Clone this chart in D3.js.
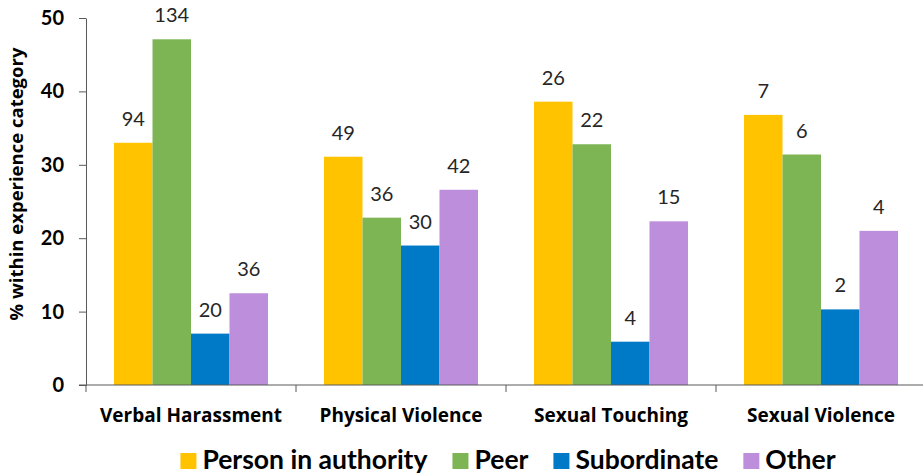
<!DOCTYPE html>
<html>
<head>
<meta charset="utf-8">
<script src="https://cdn.jsdelivr.net/npm/d3@7"></script>
<style>
  html, body { margin: 0; padding: 0; background: #fff; }
  svg { display: block; }
</style>
</head>
<body>
<svg id="chart" width="923" height="475"></svg>
<script>
// Experience categories along the x axis
const categories = ["Verbal Harassment", "Physical Violence", "Sexual Touching", "Sexual Violence"];
// Who was responsible (series)
const series = ["Person in authority", "Peer", "Subordinate", "Other"];
// Percent within experience category, one array per series (category order)
const authorityPct   = [33.0, 31.1, 38.6, 36.8];
const peerPct        = [47.1, 22.8, 32.8, 31.4];
const subordinatePct = [7.0, 19.0, 5.9, 10.3];
const otherPct       = [12.5, 26.6, 22.3, 21.0];
// Counts printed above each bar
const authorityN   = [94, 49, 26, 7];
const peerN        = [134, 36, 22, 6];
const subordinateN = [20, 30, 4, 2];
const otherN       = [36, 42, 15, 4];
const yTicks = [0, 10, 20, 30, 40, 50];

const colors = ["#FFC300", "#7DB554", "#007AC6", "#BC8EDC"];
const pctBySeries = [authorityPct, peerPct, subordinatePct, otherPct];
const nBySeries = [authorityN, peerN, subordinateN, otherN];

const rows = [];
categories.forEach((c, ci) => {
  series.forEach((s, si) => {
    rows.push({ category: c, series: s, pct: pctBySeries[si][ci], n: nBySeries[si][ci], color: colors[si] });
  });
});

const svg = d3.select("#chart");
const plotLeft = 86, plotRight = 926, plotTop = 18, plotBottom = 385;

const y = d3.scaleLinear().domain([0, 50]).range([plotBottom, plotTop]);
const x0 = d3.scaleBand().domain(categories).range([plotLeft, plotRight]).padding(0);
const x1 = d3.scaleBand().domain(series).range([28, x0.bandwidth() - 28]).padding(0);

const axisColor = "#595959";
const fontStack = "Lato, 'Open Sans', sans-serif";
const labelFont = "'Open Sans', Lato, sans-serif";

// bars
const g = svg.append("g");
g.selectAll("rect.bar").data(rows).join("rect")
  .attr("class", "bar")
  .attr("x", d => x0(d.category) + x1(d.series))
  .attr("y", d => y(d.pct))
  .attr("width", x1.bandwidth())
  .attr("height", d => y(0) - y(d.pct))
  .attr("fill", d => d.color);

// count labels
g.selectAll("text.val").data(rows).join("text")
  .attr("class", "val")
  .attr("x", d => x0(d.category) + x1(d.series) + x1.bandwidth() / 2)
  .attr("y", d => y(d.pct) - 17)
  .attr("text-anchor", "middle")
  .attr("font-family", fontStack)
  .attr("font-size", 20)
  .attr("fill", "#262626")
  .text(d => d.n);

// y axis
const yAxis = svg.append("g")
  .attr("transform", `translate(${plotLeft},0)`)
  .call(d3.axisLeft(y).tickValues(yTicks).tickSize(7).tickPadding(15).tickSizeOuter(0));
yAxis.select(".domain").attr("stroke", axisColor);
yAxis.selectAll(".tick line").attr("stroke", axisColor);
yAxis.selectAll(".tick text")
  .attr("font-family", fontStack)
  .attr("font-weight", "bold")
  .attr("font-size", 20)
  .attr("fill", "#000");

// x axis: boundary ticks between groups
const xAxisG = svg.append("g").attr("transform", `translate(0,${plotBottom})`);
xAxisG.append("line")
  .attr("x1", plotLeft - 7).attr("x2", plotRight)
  .attr("y1", 0).attr("y2", 0)
  .attr("stroke", axisColor);
const bounds = categories.map(c => x0(c)).concat([plotRight]);
xAxisG.selectAll("line.b").data(bounds).join("line")
  .attr("class", "b")
  .attr("x1", d => d).attr("x2", d => d)
  .attr("y1", 0).attr("y2", 7)
  .attr("stroke", axisColor);
xAxisG.selectAll("text.cat").data(categories).join("text")
  .attr("class", "cat")
  .attr("x", d => x0(d) + x0.bandwidth() / 2)
  .attr("y", 37)
  .attr("text-anchor", "middle")
  .attr("font-family", labelFont)
  .attr("font-weight", "bold")
  .attr("font-size", 19)
  .attr("fill", "#000")
  .text(d => d);

// y axis title
svg.append("text")
  .attr("transform", `translate(23,184) rotate(-90)`)
  .attr("text-anchor", "middle")
  .attr("font-family", labelFont)
  .attr("font-weight", "bold")
  .attr("font-size", 18.5)
  .attr("fill", "#000")
  .text("% within experience category");

// legend
const legend = svg.append("g");
const items = legend.selectAll("g.item").data(series.map((s, i) => ({ s, c: colors[i] }))).join("g").attr("class", "item");
items.append("rect").attr("width", 16).attr("height", 16).attr("y", -16).attr("fill", d => d.c);
items.append("text")
  .attr("x", 22)
  .attr("font-family", fontStack)
  .attr("font-weight", "bold")
  .attr("font-size", 26.5)
  .attr("fill", "#000")
  .text(d => d.s);
let xpos = 0;
const offsets = [];
items.each(function (d) {
  const w = 22 + d3.select(this).select("text").node().getComputedTextLength();
  offsets.push(xpos);
  xpos += w + 25;
});
const totalW = xpos - 25;
const startX = 508 - totalW / 2;
items.attr("transform", (d, i) => `translate(${startX + offsets[i]},469)`);
</script>
</body>
</html>
